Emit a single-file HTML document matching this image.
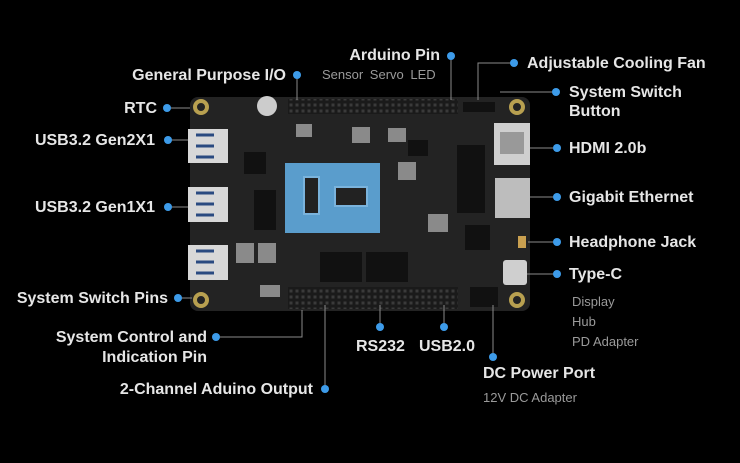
<!DOCTYPE html>
<html><head><meta charset="utf-8"><style>
body{margin:0;width:740px;height:463px;background:#000;overflow:hidden;position:relative;font-family:"Liberation Sans",sans-serif}
.l{position:absolute;color:#e6e6e6;font-weight:bold;font-size:16px;line-height:19px;white-space:nowrap}
.s{position:absolute;color:#9a9a9a;font-size:13px;line-height:16px;white-space:nowrap}
.r{text-align:right}
</style></head><body>
<svg width="740" height="463" style="position:absolute;left:0;top:0">
<defs><pattern id="pins" width="6" height="6" patternUnits="userSpaceOnUse"><rect width="6" height="6" fill="#1a1a1a"/><rect x="1.5" y="1.5" width="3" height="3" fill="#3a3a3a"/></pattern></defs>
<rect x="190" y="97" width="340" height="214" rx="8" fill="#232323"/>
<rect x="288" y="99" width="170" height="15" fill="url(#pins)"/>
<rect x="288" y="287" width="170" height="22" fill="url(#pins)"/>
<rect x="463" y="102" width="32" height="10" fill="#111"/>
<rect x="470" y="287" width="28" height="20" fill="#111"/>
<g fill="none" stroke="#b8a050" stroke-width="4"><circle cx="201" cy="107" r="6"/><circle cx="517" cy="107" r="6"/><circle cx="201" cy="300" r="6"/><circle cx="517" cy="300" r="6"/></g>
<circle cx="267" cy="106" r="10" fill="#ccc"/>
<g fill="#d8d8d8"><rect x="188" y="129" width="40" height="34"/><rect x="188" y="187" width="40" height="35"/><rect x="188" y="245" width="40" height="35"/></g>
<g stroke="#2a4a80" stroke-width="3" fill="none"><path d="M196 135h18M196 146h18M196 157h18"/><path d="M196 193h18M196 204h18M196 215h18"/><path d="M196 251h18M196 262h18M196 273h18"/></g>
<rect x="494" y="123" width="36" height="42" fill="#cfcfcf"/><rect x="500" y="132" width="24" height="22" fill="#999"/>
<rect x="495" y="178" width="35" height="40" fill="#bdbdbd"/>
<rect x="503" y="260" width="24" height="25" rx="3" fill="#cfcfcf"/>
<rect x="518" y="236" width="8" height="12" fill="#c9a050"/>
<rect x="285" y="163" width="95" height="70" fill="#5a9dcc"/>
<rect x="303" y="176" width="17" height="39" fill="#7ab3dc"/><rect x="305" y="178" width="13" height="35" fill="#222"/>
<rect x="334" y="186" width="34" height="21" fill="#7ab3dc"/><rect x="336" y="188" width="30" height="17" fill="#222"/>
<g fill="#111"><rect x="320" y="252" width="42" height="30"/><rect x="366" y="252" width="42" height="30"/><rect x="457" y="145" width="28" height="68"/><rect x="465" y="225" width="25" height="25"/><rect x="244" y="152" width="22" height="22"/><rect x="254" y="190" width="22" height="40"/><rect x="408" y="140" width="20" height="16"/></g>
<g fill="#8a8a8a"><rect x="296" y="124" width="16" height="13"/><rect x="352" y="127" width="18" height="16"/><rect x="398" y="162" width="18" height="18"/><rect x="428" y="214" width="20" height="18"/><rect x="236" y="243" width="18" height="20"/><rect x="258" y="243" width="18" height="20"/><rect x="388" y="128" width="18" height="14"/><rect x="260" y="285" width="20" height="12"/></g>
<g stroke="#8a8a8a" stroke-width="1" fill="none">
<path d="M451 56V100"/><path d="M514 63H478V100"/><path d="M297 75V100"/><path d="M167 108H190"/><path d="M556 92H500"/>
<path d="M168 140H188"/><path d="M557 148H530"/><path d="M557 197H530"/><path d="M168 207H188"/>
<path d="M557 242H528"/><path d="M557 274H527"/><path d="M178 298H192"/>
<path d="M216 337H302V310"/><path d="M380 327V305"/><path d="M444 327V305"/><path d="M493 357V305"/><path d="M325 389V305"/>
</g>
<g fill="#3d9be9">
<circle cx="451" cy="56" r="4"/><circle cx="514" cy="63" r="4"/><circle cx="297" cy="75" r="4"/><circle cx="167" cy="108" r="4"/><circle cx="556" cy="92" r="4"/>
<circle cx="168" cy="140" r="4"/><circle cx="557" cy="148" r="4"/><circle cx="557" cy="197" r="4"/><circle cx="168" cy="207" r="4"/>
<circle cx="557" cy="242" r="4"/><circle cx="557" cy="274" r="4"/><circle cx="178" cy="298" r="4"/><circle cx="216" cy="337" r="4"/>
<circle cx="380" cy="327" r="4"/><circle cx="444" cy="327" r="4"/><circle cx="493" cy="357" r="4"/><circle cx="325" cy="389" r="4"/>
</g>
</svg>
<div class="l r" style="right:300px;top:46px">Arduino Pin</div>
<div class="s" style="left:322px;top:67px;word-spacing:3px">Sensor Servo LED</div>
<div class="l" style="left:527px;top:54px">Adjustable Cooling Fan</div>
<div class="l r" style="right:454px;top:66px">General Purpose I/O</div>
<div class="l r" style="right:583px;top:99px">RTC</div>
<div class="l" style="left:569px;top:83px">System Switch<br>Button</div>
<div class="l r" style="right:585px;top:131px">USB3.2 Gen2X1</div>
<div class="l" style="left:569px;top:139px">HDMI 2.0b</div>
<div class="l" style="left:569px;top:188px">Gigabit Ethernet</div>
<div class="l r" style="right:585px;top:198px">USB3.2 Gen1X1</div>
<div class="l" style="left:569px;top:233px">Headphone Jack</div>
<div class="l" style="left:569px;top:265px">Type-C</div>
<div class="s" style="left:572px;top:292px;line-height:20px">Display<br>Hub<br>PD Adapter</div>
<div class="l r" style="right:572px;top:289px">System Switch Pins</div>
<div class="l r" style="right:533px;top:328px;line-height:20px">System Control and<br>Indication Pin</div>
<div class="l" style="left:356px;top:337px">RS232</div>
<div class="l" style="left:419px;top:337px">USB2.0</div>
<div class="l" style="left:483px;top:364px">DC Power Port</div>
<div class="s" style="left:483px;top:390px">12V DC Adapter</div>
<div class="l r" style="right:427px;top:380px">2-Channel Aduino Output</div>
</body></html>
